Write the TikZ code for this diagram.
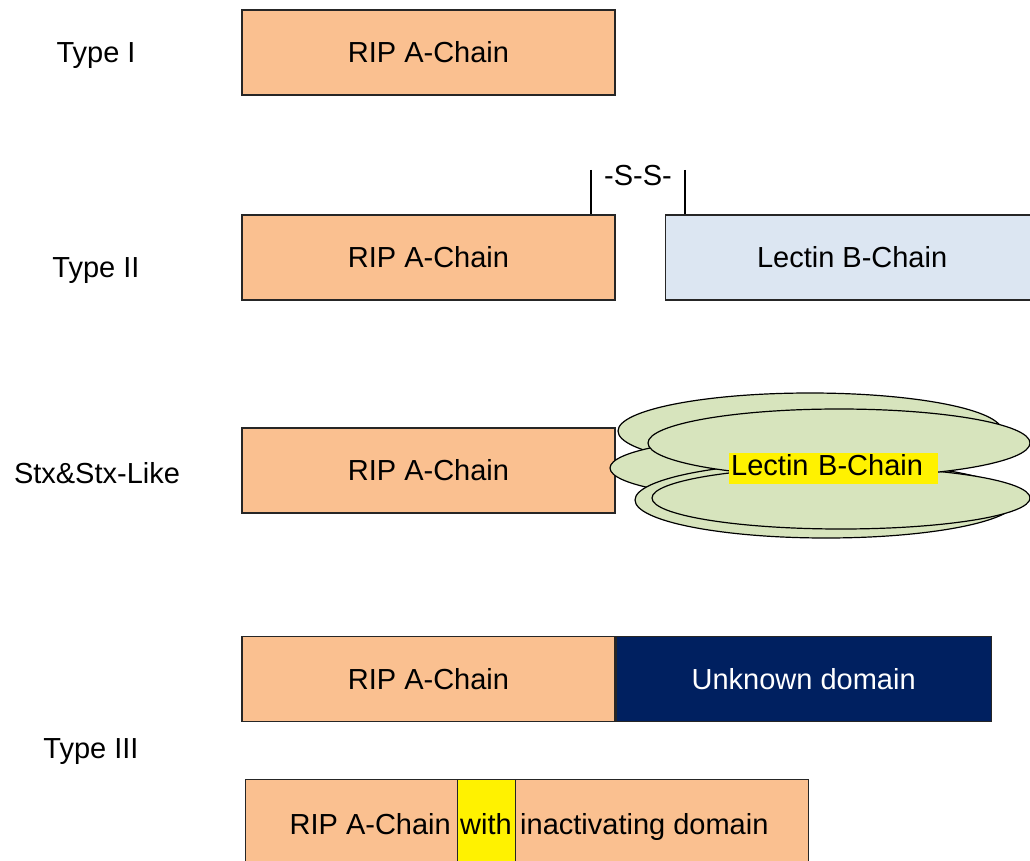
\documentclass[tikz,border=0pt]{standalone}
\usepackage{fontspec}
\setmainfont{Liberation Sans}
\usepackage{tikz}

\definecolor{chainorange}{HTML}{FAC090}
\definecolor{lectinblue}{HTML}{DCE6F2}
\definecolor{lectingreen}{HTML}{D7E4BD}
\definecolor{domainnavy}{HTML}{002060}

\begin{document}
\begin{tikzpicture}[x=1pt, y=-1pt,
		every node/.style={font=\fontsize{29}{34}\selectfont, text height=20.8pt, text depth=0pt},
		chainbox/.style={draw=black!85, line width=1.2pt, fill=chainorange, minimum width=373pt, minimum height=85pt, inner sep=0pt},
		bluebox/.style={draw=black!85, line width=1.2pt, fill=lectinblue, minimum width=373pt, minimum height=85pt, inner sep=0pt},
		navybox/.style={draw=black!85, line width=1.2pt, fill=domainnavy, text=white, minimum width=375pt, minimum height=85pt, inner sep=0pt},
		blob/.style={draw=black, line width=1.2pt, fill=lectingreen},
		typelabel/.style={inner sep=0pt}]
	\useasboundingbox (0,0) rectangle (1030,861);
	% type I
	\node[typelabel] (t1) at (96,52) {Type I};
	\node[chainbox] (a1) at (428.5,52.5) {RIP A-Chain};
	% type II
	\node[typelabel] (t2) at (96,267) {Type II};
	\node[chainbox] (a2) at (428.5,257.5) {RIP A-Chain};
	\node[bluebox, anchor=west] (b2) at (665,257.5) {Lectin B-Chain};
	\node[inner sep=0pt] (ss) at (638,175) {-S-S-};
	\coordinate (ssl) at (591,170);
	\coordinate (ssr) at (685,170);
	\draw[line width=1.2pt] (ssl) -- (ssl |- a2.north);
	\draw[line width=1.2pt] (ssr) -- (ssr |- b2.north);
	% Stx & Stx-like
	\node[typelabel] (t3) at (97,473) {Stx\&Stx-Like};
	\node[chainbox] (a3) at (428.5,470.5) {RIP A-Chain};
	\draw[blob] (810,431) ellipse [x radius=192, y radius=38];
	\draw[blob] (780,468) ellipse [x radius=170, y radius=31];
	\draw[blob] (826,500) ellipse [x radius=191, y radius=38];
	\draw[blob] (841,498) ellipse [x radius=189, y radius=31];
	\draw[blob] (839,443) ellipse [x radius=191, y radius=34];
	\node[fill=yellow, anchor=west, inner xsep=2pt, inner ysep=0pt, text width=205pt, align=left, text height=23pt, text depth=8pt] (lb3) at (729,468) {Lectin B-Chain};
	% type III
	\node[typelabel] (t4) at (91,748) {Type III};
	\node[chainbox] (a4) at (428.5,679) {RIP A-Chain};
	\node[navybox, anchor=west] (u4) at (a4.east) {Unknown domain};
	\node[draw=black!85, line width=1.2pt, fill=chainorange, minimum width=563pt, minimum height=100pt, anchor=north west] (a5) at (245,779) {};
	\node[draw=black!85, line width=1.2pt, fill=yellow, minimum width=58pt, minimum height=100pt, anchor=north west, inner sep=0pt] (w5) at (457,779) {};
	\node[inner sep=0pt] (wt5) at (486,824) {with};
	\node[inner sep=0pt, anchor=east] (r5) at (451,824) {RIP A-Chain};
	\node[inner sep=0pt, anchor=west] (i5) at (520,824) {inactivating domain};
\end{tikzpicture}
\end{document}
